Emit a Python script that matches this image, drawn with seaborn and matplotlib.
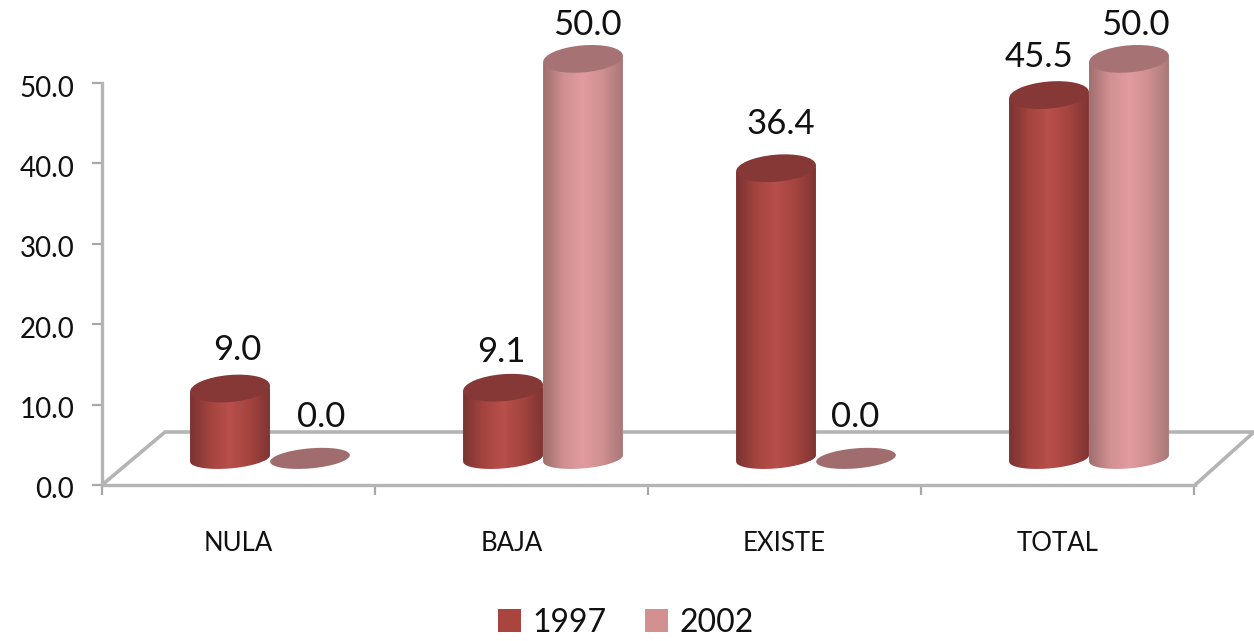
import numpy as np
import pandas as pd
import matplotlib
matplotlib.use("Agg")
import matplotlib.pyplot as plt
import seaborn as sns
from matplotlib.colors import LinearSegmentedColormap
from matplotlib.patches import Ellipse
from matplotlib.path import Path
from matplotlib.transforms import IdentityTransform, ScaledTranslation

categories = ["NULA", "BAJA", "EXISTE", "TOTAL"]
values_1997 = [9.0, 9.1, 36.4, 45.5]
values_2002 = [0.0, 50.0, 0.0, 50.0]
years = ["1997", "2002"]
y_ticks = [0, 10, 20, 30, 40, 50]

# label nudges in pixels, one per bar (the original placed them by hand)
nudge_1997 = [(7, 39), (-2, 36), (5, 44), (-10, 38)]
nudge_2002 = [(11, 44), (4, 34), (-1, 44), (6, 34)]

colors = {"1997": "#a9443f", "2002": "#d39090"}
top_colors = {"1997": "#853836", "2002": "#a67274"}
shades = {
    "1997": ["#7a3331", "#a4443f", "#b84f4b", "#a4443f", "#7f3533"],
    "2002": ["#a06e6e", "#cf8f90", "#e29c9f", "#cf8f90", "#a87878"],
}

W, H = 1254, 641
sns.set_theme(style="white")
plt.rcParams["font.family"] = ["Lato", "DejaVu Sans"]
plt.rcParams["text.color"] = "#111111"

df = pd.DataFrame({
    "category": categories * 2,
    "year": [years[0]] * 4 + [years[1]] * 4,
    "value": values_1997 + values_2002,
})

fig = plt.figure(figsize=(W / 100, H / 100), dpi=100, facecolor="white")
# axes span px x 102..1254, y 0..485
ax = fig.add_axes([102 / W, (H - 485) / H, (W - 102) / W, 485 / H])
ax.patch.set_alpha(0)

sns.barplot(data=df, x="category", y="value", hue="year", hue_order=years,
            palette=colors, width=0.586, gap=0, saturation=1,
            linewidth=0, ax=ax, zorder=3)

# the cylinders stand on a floor lifted above the zero line
lift = 3.0
for bars in ax.containers:
    for bar in bars:
        bar.set_y(lift)

xlim = ((102 - 270) / 273, (W - 270) / 273)
ylim = (0, 485 / 8.04)
ax.set_autoscale_on(False)
ax.set_xlim(xlim)
ax.set_ylim(ylim)
ax.set_xlabel("")
ax.set_ylabel("")

grey = "#b4b4b4"
sns.despine(ax=ax, top=True, right=True)
for side in ["left", "bottom"]:
    ax.spines[side].set_color(grey)
    ax.spines[side].set_linewidth(2.4)
ax.spines["left"].set_bounds(0, 50)
ax.spines["bottom"].set_bounds(xlim[0], (1195 - 270) / 273)

ax.set_yticks(y_ticks, [f"{v:.1f}" for v in y_ticks])
ax.tick_params(axis="y", length=7, width=1.6, color="#a8a8a8", labelsize=20,
               pad=13, left=True, labelcolor="#111111")
for lab in ax.get_yticklabels():
    lab.set_transform(lab.get_transform() + ScaledTranslation(0, -3 / 100, fig.dpi_scale_trans))

edges = np.arange(5) + xlim[0]
ax.set_xticks(edges, minor=True)
ax.set_xticks(edges[:-1] + 0.5, categories)
ax.tick_params(axis="x", which="minor", length=7, width=1.6, color="#a8a8a8", bottom=True)
ax.tick_params(axis="x", which="major", length=0, labelsize=18.5, pad=33, labelcolor="#111111")


def px(x, y):
    # picture pixel (y down) to display coords
    return x, H - y


# back and side edges of the floor
floor = [(102, 485), (165, 432), (1254, 432), (1195, 485)]
fx, fy = zip(*[px(*p) for p in floor])
ax.plot(fx, fy, color=grey, lw=2.6, transform=IdentityTransform(), clip_on=False,
        zorder=1, solid_joinstyle="miter")

tilt_deg = 5
tilt = np.deg2rad(tilt_deg)
ident = IdentityTransform()


def arc(cx, cy, a, b):
    t = np.linspace(np.pi, 2 * np.pi, 60)
    xs = cx + a * np.cos(t) * np.cos(tilt) - b * np.sin(t) * np.sin(tilt)
    ys = cy + a * np.cos(t) * np.sin(tilt) + b * np.sin(t) * np.cos(tilt)
    return xs, ys


for year, bars, nudges, z in zip(years, ax.containers, [nudge_1997, nudge_2002], [3, 5]):
    cmap = LinearSegmentedColormap.from_list(year, shades[year])
    grad = np.linspace(0, 1, 128)[None, :]
    for bar, nudge in zip(bars, nudges):
        x0 = bar.get_x()
        x1 = x0 + bar.get_width()
        value = bar.get_height()
        (dx0, dy0), (dx1, dy1) = ax.transData.transform([(x0, lift), (x1, lift + value)])
        cx = (dx0 + dx1) / 2
        a = (dx1 - dx0) / 2
        base_y = dy0 + 2.5  # base ellipse sits a little above the lift line

        if value > 0:
            xs, ys = arc(cx, base_y, a, 10)
            lx = cx - a * np.cos(tilt)
            rx = cx + a * np.cos(tilt)
            ly = dy1 - a * np.sin(tilt)
            ry = dy1 + a * np.sin(tilt)
            outline = np.column_stack([
                np.r_[lx, xs, rx, lx],
                np.r_[ly, ys, ry, ly],
            ])
            clip = Path(outline, closed=True)
            im = ax.imshow(grad, cmap=cmap, aspect="auto", interpolation="bilinear",
                           extent=(x0, x1, 0, lift + value + 1), zorder=z)
            im.set_clip_path(clip, transform=ident)
            bar.set_clip_path(clip, transform=ident)
            ax.add_patch(Ellipse((cx, dy1), 2 * a, 27, angle=tilt_deg, transform=ident,
                                 facecolor=top_colors[year], edgecolor="none", zorder=z + 0.5))
        else:
            ax.add_patch(Ellipse((cx, base_y), 2 * a, 20, angle=tilt_deg, transform=ident,
                                 facecolor="#a06c6e", edgecolor="none", zorder=z + 0.5))

        ax.annotate(f"{value:.1f}", xy=((x0 + x1) / 2, lift + value), xytext=nudge,
                    textcoords="offset pixels", ha="center", va="center", fontsize=25,
                    annotation_clip=False, zorder=8)

ax.set_xlim(xlim)
ax.set_ylim(ylim)

handles, labels = ax.get_legend_handles_labels()
ax.legend(handles, labels, loc="center", bbox_to_anchor=(626 / W, 1 - 623 / H),
          bbox_transform=fig.transFigure, ncol=2, frameon=False, fontsize=23,
          handlelength=0.72, handleheight=0.72, handletextpad=0.35, columnspacing=1.2,
          borderpad=0, title=None)

fig.savefig("out.png", dpi=100, facecolor="white")
